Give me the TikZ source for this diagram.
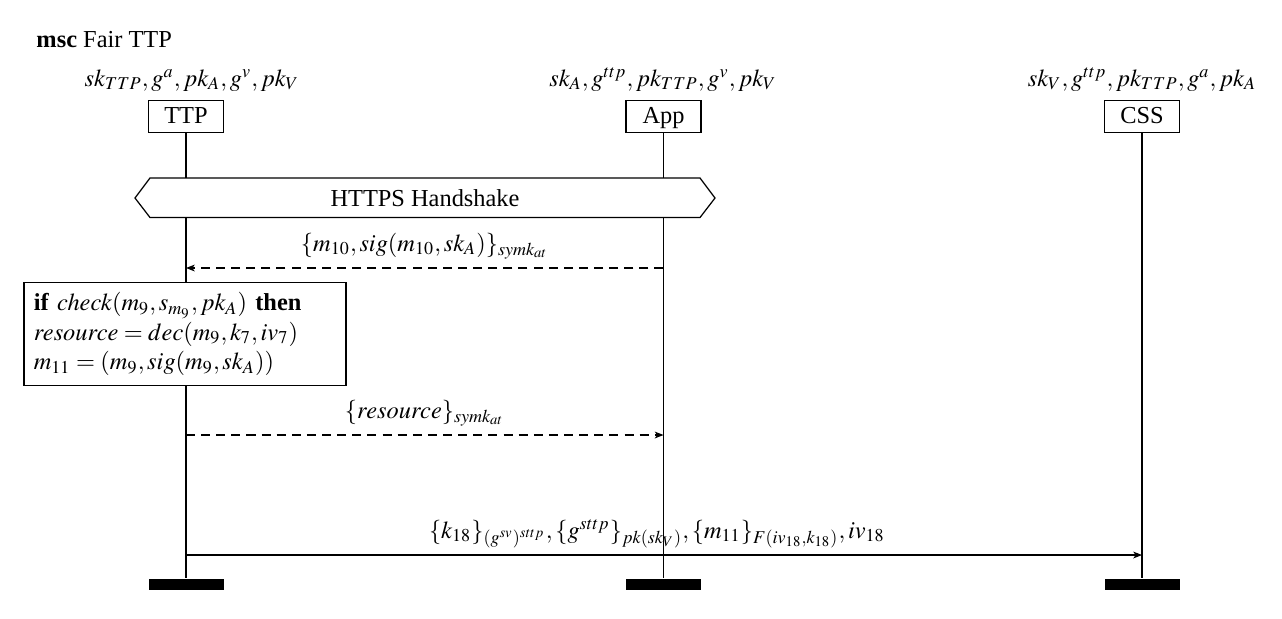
\documentclass[tikz,border=0pt]{standalone}
\usepackage{mathptmx}
\usepackage[no-math]{fontspec}
\setmainfont{Liberation Serif}
\usetikzlibrary{arrows.meta}
\begin{document}
\begin{tikzpicture}[x=0.41pt,y=-0.41pt,
  inst/.style={draw, line width=0.5pt, minimum width=30.75pt, minimum height=12.9pt, inner sep=0pt, fill=white, text height=1.55ex, text depth=0.35ex},
  endbar/.style={fill=black, minimum width=30.75pt, minimum height=4.5pt, inner sep=0pt},
  life/.style={line width=0.55pt},
  msg/.style={-{Stealth[length=3.6pt,width=2.8pt,inset=1pt]}, line width=0.45pt},
  dmsg/.style={msg, dash pattern=on 3.7pt off 2.5pt},
  lbl/.style={inner sep=0pt}
]
\useasboundingbox (0,0) rectangle (1282,618);

\node[anchor=base west, inner sep=0pt] (title) at (36,47) {\textbf{msc} Fair TTP};

% instance headers
\node[inst] (ttp) at (186,116.5) {TTP};
\node[inst] (app) at (663.5,116.5) {App};
\node[inst] (css) at (1142,116.5) {CSS};

\node[lbl, anchor=base] (ttpk) at (192,86) {$sk_{TTP}, g^a, pk_A, g^v, pk_V$};
\node[lbl, anchor=base] (appk) at (663,86) {$sk_A, g^{ttp}, pk_{TTP}, g^v, pk_V$};
\node[lbl, anchor=base] (cssk) at (1142,86) {$sk_V, g^{ttp}, pk_{TTP}, g^a, pk_A$};

% end bars
\node[endbar] (ttpe) at (186,584) {};
\node[endbar] (appe) at (663.5,584) {};
\node[endbar] (csse) at (1142,584) {};

% lifelines
\draw[life] (ttp.south) -- (ttpe.north);
\draw[life] (app.south) -- (appe.north);
\draw[life] (css.south) -- (csse.north);

% HTTPS handshake
\coordinate (hl) at (135,198);
\coordinate (hr) at (715,198);
\draw[line width=0.5pt, fill=white] (hl) -- (150,178) -- (700,178) -- (hr) -- (700,217.5) -- (150,217.5) -- cycle;
\node (hs) at (425,198) {HTTPS Handshake};

% message 1
\coordinate (m1a) at (app.south |- 0,268);
\coordinate (m1b) at (ttp.south |- 0,268);
\draw[dmsg] (m1a) -- (m1b);
\node[lbl, anchor=base] (m1l) at (424.75,251) {$\{m_{10}, sig(m_{10}, sk_A)\}_{symk_{at}}$};

% action box
\node[draw, line width=0.5pt, fill=white, align=left, inner sep=4pt, minimum width=132pt, minimum height=41pt, text width=124pt] (act) at (185,334)
  {\textbf{if} $check(m_9, s_{m_9}, pk_A)$ \textbf{then}\\
   $resource = dec(m_9, k_7, iv_7)$\\
   $m_{11} = (m_9, sig(m_9, sk_A))$};

% message 2
\coordinate (m2a) at (ttp.south |- 0,435);
\coordinate (m2b) at (app.south |- 0,435);
\draw[dmsg] (m2a) -- (m2b);
\node[lbl, anchor=base] (m2l) at (424.75,418) {$\{resource\}_{symk_{at}}$};

% message 3
\coordinate (m3a) at (ttp.south |- 0,555);
\coordinate (m3b) at (css.south |- 0,555);
\draw[msg] (m3a) -- (m3b);
\node[lbl, anchor=base] (m3l) at (657,538) {$\{k_{18}\}_{(g^{sv})^{sttp}}, \{g^{sttp}\}_{pk(sk_V)}, \{m_{11}\}_{F(iv_{18},k_{18})}, iv_{18}$};
\end{tikzpicture}
\end{document}
